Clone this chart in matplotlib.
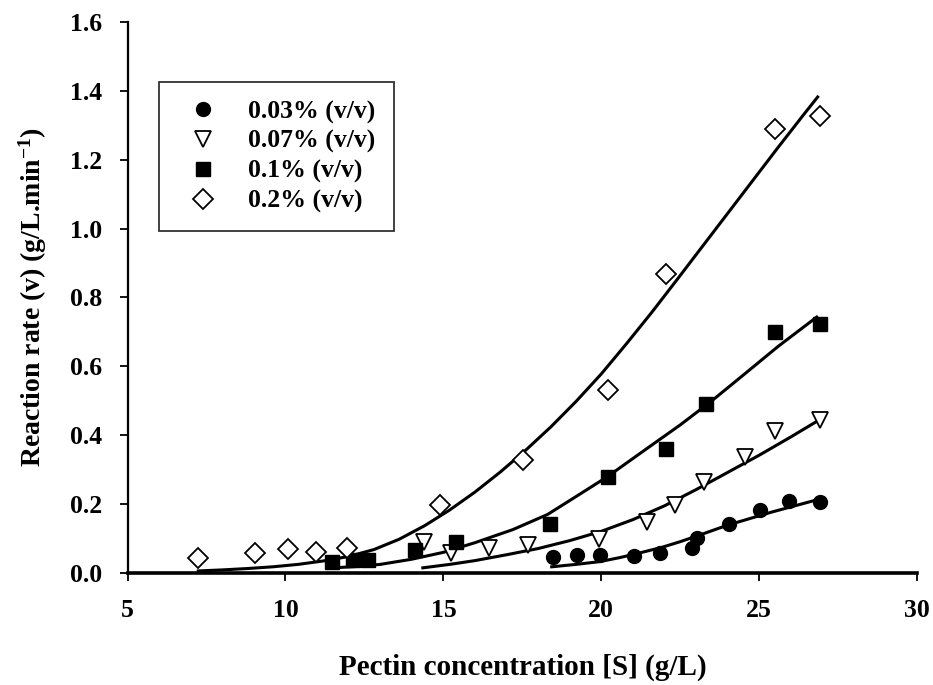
import matplotlib
matplotlib.use("Agg")
import matplotlib.pyplot as plt

plt.rcParams['font.family'] = ['Liberation Serif', 'DejaVu Serif']
plt.rcParams['font.weight'] = 'bold'
plt.rcParams['mathtext.fontset'] = 'custom'
plt.rcParams['mathtext.rm'] = 'Liberation Serif:bold'
plt.rcParams['mathtext.bf'] = 'Liberation Serif:bold'
plt.rcParams['mathtext.default'] = 'bf'

# measured points
x_003 = [18.46, 19.23, 19.97, 21.03, 21.86, 22.86, 23.02, 24.04, 25.04, 25.93, 26.91]
y_003 = [0.047, 0.052, 0.051, 0.048, 0.058, 0.072, 0.101, 0.143, 0.182, 0.208, 0.206]

x_007 = [14.38, 15.23, 16.44, 17.68, 19.93, 21.45, 22.33, 23.24, 24.56, 25.51, 26.91]
y_007 = [0.089, 0.057, 0.073, 0.080, 0.100, 0.147, 0.196, 0.265, 0.337, 0.412, 0.444]

x_01 = [11.47, 12.13, 12.62, 14.09, 15.40, 18.37, 20.22, 22.05, 23.30, 25.51, 26.91]
y_01 = [0.033, 0.038, 0.039, 0.067, 0.089, 0.143, 0.280, 0.361, 0.490, 0.700, 0.722]

x_02 = [7.23, 9.03, 10.07, 10.97, 11.96, 14.89, 17.51, 20.22, 22.05, 25.51, 26.91]
y_02 = [0.044, 0.057, 0.070, 0.062, 0.073, 0.198, 0.327, 0.532, 0.869, 1.288, 1.328]

# fitted curves
fx_003 = [18.43, 19.2, 19.95, 20.6, 21.2, 21.9, 22.5, 23.2, 24.0, 25.4, 26.81]
fy_003 = [0.018, 0.025, 0.033, 0.045, 0.058, 0.074, 0.091, 0.113, 0.139, 0.177, 0.212]

fx_007 = [14.35, 15.2, 16.0, 17.0, 18.0, 19.0, 20.0, 21.0, 22.0, 23.0, 24.0, 25.0, 26.0, 26.82]
fy_007 = [0.015, 0.025, 0.036, 0.053, 0.071, 0.094, 0.121, 0.155, 0.195, 0.242, 0.292, 0.342, 0.395, 0.440]

fx_01 = [11.5, 12.3, 13.0, 14.0, 15.0, 16.0, 17.2, 18.3, 19.2, 20.2, 21.3, 22.5, 23.5, 24.5, 25.6, 26.82]
fy_01 = [0.015, 0.019, 0.025, 0.040, 0.060, 0.088, 0.126, 0.170, 0.222, 0.280, 0.352, 0.430, 0.500, 0.575, 0.658, 0.743]

fx_02 = [7.24, 8.0, 8.8, 9.6, 10.4, 11.2, 12.0, 12.8, 13.6, 14.4, 15.2, 16.0, 16.8, 17.6, 18.4, 19.2, 20.0, 20.8, 21.6, 22.4, 23.2, 24.0, 24.8, 25.6, 26.4, 26.85]
fy_02 = [0.006, 0.009, 0.013, 0.018, 0.025, 0.035, 0.048, 0.068, 0.098, 0.137, 0.183, 0.235, 0.293, 0.356, 0.424, 0.498, 0.578, 0.666, 0.757, 0.852, 0.948, 1.044, 1.140, 1.236, 1.330, 1.382]

labels = ['0.03% (v/v)', '0.07% (v/v)', '0.1% (v/v)', '0.2% (v/v)']

fig, ax = plt.subplots(figsize=(9.33, 6.85), dpi=100)
fig.subplots_adjust(left=0.1367, right=0.983, bottom=0.1635, top=0.968)

lw = 2.2
ax.plot(fx_003, fy_003, color='black', lw=lw, zorder=2)
ax.plot(fx_007, fy_007, color='black', lw=lw, zorder=2)
ax.plot(fx_01, fy_01, color='black', lw=lw, zorder=2)
ax.plot(fx_02, fy_02, color='black', lw=lw, zorder=2)

h1, = ax.plot(x_003, y_003, 'o', ms=10, mfc='black', mec='black', ls='none', zorder=3)
h2, = ax.plot(x_007, y_007, 'v', ms=11, mfc='white', mec='black', mew=1.3, ls='none', zorder=3)
h3, = ax.plot(x_01, y_01, 's', ms=9.5, mfc='black', mec='black', ls='none', zorder=3)
h4, = ax.plot(x_02, y_02, 'D', ms=10.5, mfc='white', mec='black', mew=1.3, ls='none', zorder=3)

ax.set_xlim(5, 30)
ax.set_ylim(0, 1.6)
ax.set_xticks([5, 10, 15, 20, 25, 30])
ax.set_yticks([0.0, 0.2, 0.4, 0.6, 0.8, 1.0, 1.2, 1.4, 1.6])
ax.set_yticklabels(['%.1f' % v for v in ax.get_yticks()])

for s in ['top', 'right']:
    ax.spines[s].set_visible(False)
ax.spines['left'].set_linewidth(1.6)
ax.spines['bottom'].set_linewidth(2.6)
ax.tick_params(direction='out', length=6, width=1.3, labelsize=18.5)
ax.tick_params(axis='x', pad=12.5)
ax.tick_params(axis='y', pad=12)

ax.set_xlabel('Pectin concentration [S] (g/L)', fontsize=21, fontweight='bold')
ax.xaxis.label.set_va('center')
ax.xaxis.set_label_coords(0.5, -0.172)
ax.set_ylabel('Reaction rate (v) (g/L.min$^{\\mathbf{-1}}$)', fontsize=20, fontweight='bold')
ax.yaxis.label.set_va('center')
ax.yaxis.set_label_coords(-0.12, 0.5)

leg = ax.legend([h1, h2, h3, h4], labels, loc='upper left', bbox_to_anchor=(0.04, 0.891),
                fontsize=18.5, frameon=True, fancybox=False, edgecolor='black',
                borderpad=0.71, labelspacing=0.25, handlelength=2.0, handletextpad=0.75,
                borderaxespad=0)
leg.get_frame().set_linewidth(1.3)

fig.savefig('out.png', dpi=100)
